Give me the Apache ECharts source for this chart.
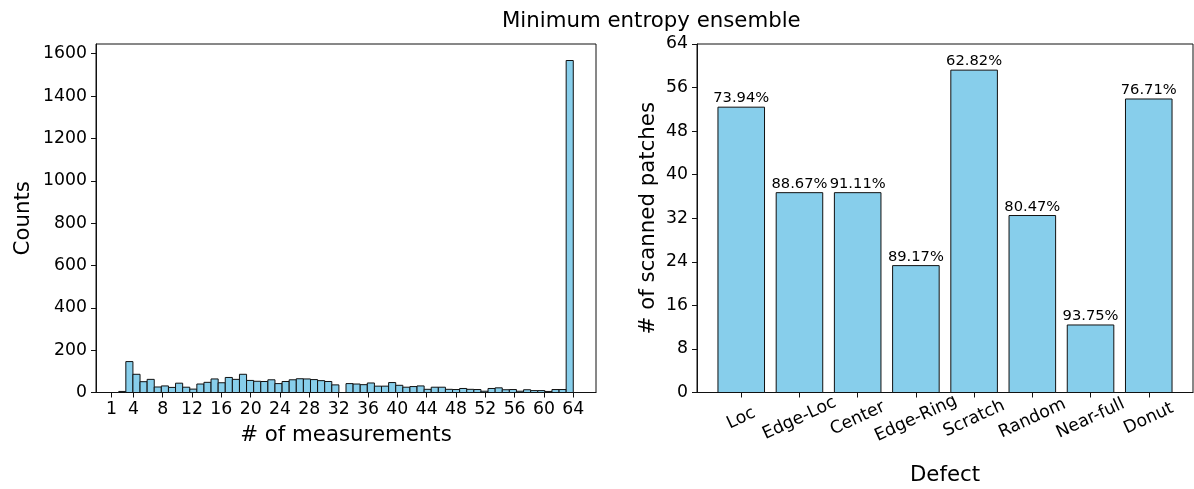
<!DOCTYPE html>
<html>
<head>
<meta charset="utf-8">
<script src="https://cdn.jsdelivr.net/npm/echarts@6/dist/echarts.min.js"></script>
<style>
html,body{margin:0;padding:0;background:#fff;}
#chart{width:1194px;height:489px;}
</style>
</head>
<body>
<div id="chart"></div>
<script>
// ---- Data ----
const titleText = 'Minimum entropy ensemble';

// Histogram: number of measurements, 64 bins between binMin and binMax
const binMin = 2;
const binMax = 64;
const binCounts = [
  5, 146, 86, 51, 62, 26, 31, 24, 44, 25, 16, 40, 48, 64, 46, 71,
  62, 86, 57, 53, 52, 60, 42, 52, 60, 65, 64, 61, 56, 52, 36, 0,
  42, 40, 37, 45, 30, 30, 47, 34, 25, 28, 31, 15, 25, 25, 15, 14,
  19, 15, 14, 6, 19, 22, 13, 14, 6, 13, 9, 9, 5, 14, 14, 1568
];
const histXTicks = [1, 4, 8, 12, 16, 20, 24, 28, 32, 36, 40, 44, 48, 52, 56, 60, 64];
const histYTicks = [0, 200, 400, 600, 800, 1000, 1200, 1400, 1600];

// Bar chart: scanned patches per defect
const defects = ['Loc', 'Edge-Loc', 'Center', 'Edge-Ring', 'Scratch', 'Random', 'Near-full', 'Donut'];
const scannedPatches = [52.4, 36.7, 36.7, 23.3, 59.2, 32.5, 12.4, 53.9];
const percentLabels = ['73.94%', '88.67%', '91.11%', '89.17%', '62.82%', '80.47%', '93.75%', '76.71%'];

// ---- Chart ----
const FONT = 'DejaVu Sans';
const TICK_FS = 17.3;
const LABEL_FS = 21.3;
const EDGE = '#111';
const FILL = '#87CEEB';

const nBins = binCounts.length;
const binW = (binMax - binMin) / nBins;
const histData = binCounts.map((c, i) => [binMin + i * binW, c]);
const barData = scannedPatches.map((v, i) => [i, v]);
const defectIdx = defects.map((d, i) => i);

const axisLine = {show: true, onZero: false, lineStyle: {color: EDGE, width: 1}};
const nameStyle = {fontFamily: FONT, fontSize: LABEL_FS, color: '#000'};
const plain = v => String(v);

const chart = echarts.init(document.getElementById('chart'), null, {renderer: 'canvas'});
chart.setOption({
  animation: false,
  textStyle: {fontFamily: FONT, color: '#000'},
  title: {
    text: titleText,
    left: 497, top: 6,
    textStyle: {fontFamily: FONT, fontSize: LABEL_FS, fontWeight: 'normal', color: '#000'}
  },
  grid: [
    {left: 96, right: 598, top: 44, bottom: 96.5, show: true, borderColor: EDGE, borderWidth: 1,
     containLabel: false, outerBoundsMode: 'none'},
    {left: 697, right: 1, top: 44, bottom: 96.5, show: true, borderColor: EDGE, borderWidth: 1,
     containLabel: false, outerBoundsMode: 'none'}
  ],
  xAxis: [
    {
      gridIndex: 0, type: 'value', min: -1.1, max: 67.1,
      name: '# of measurements', nameLocation: 'middle', nameGap: 32, nameTextStyle: nameStyle,
      axisLine: axisLine, splitLine: {show: false},
      axisTick: {show: true, length: 5, lineStyle: {color: EDGE}, customValues: histXTicks},
      axisLabel: {customValues: histXTicks, formatter: plain, fontSize: TICK_FS, color: '#000', margin: 9, fontFamily: FONT}
    },
    {
      gridIndex: 1, type: 'value', min: -0.76, max: 7.76,
      name: 'Defect', nameLocation: 'middle', nameGap: 72, nameTextStyle: nameStyle,
      axisLine: axisLine, splitLine: {show: false},
      axisTick: {show: true, length: 5, lineStyle: {color: EDGE}, customValues: defectIdx},
      axisLabel: {
        customValues: defectIdx,
        formatter: v => defects[Math.round(v)],
        rotate: 25, align: 'center', verticalAlign: 'middle',
        fontSize: TICK_FS, color: '#000', margin: 26, fontFamily: FONT
      }
    }
  ],
  yAxis: [
    {
      gridIndex: 0, type: 'value', min: 0, max: 1646,
      name: 'Counts', nameLocation: 'middle', nameGap: 62, nameTextStyle: nameStyle,
      axisLine: axisLine, splitLine: {show: false},
      axisTick: {show: true, length: 5, lineStyle: {color: EDGE}, customValues: histYTicks},
      axisLabel: {customValues: histYTicks, formatter: plain, fontSize: TICK_FS, color: '#000', margin: 9, fontFamily: FONT}
    },
    {
      gridIndex: 1, type: 'value', min: 0, max: 64, interval: 8,
      name: '# of scanned patches', nameLocation: 'middle', nameGap: 38, nameTextStyle: nameStyle,
      axisLine: axisLine, splitLine: {show: false},
      axisTick: {show: true, length: 5, lineStyle: {color: EDGE}},
      axisLabel: {formatter: plain, fontSize: TICK_FS, color: '#000', margin: 9, fontFamily: FONT}
    }
  ],
  series: [
    {
      type: 'custom',
      xAxisIndex: 0, yAxisIndex: 0,
      data: histData,
      encode: {x: 0, y: 1},
      renderItem: function (params, api) {
        const x0 = api.value(0);
        const p0 = api.coord([x0, 0]);
        const p1 = api.coord([x0 + binW, api.value(1)]);
        return {
          type: 'rect',
          shape: {x: p0[0], y: p1[1], width: p1[0] - p0[0], height: p0[1] - p1[1]},
          style: {fill: FILL, stroke: EDGE, lineWidth: 1}
        };
      }
    },
    {
      type: 'custom',
      xAxisIndex: 1, yAxisIndex: 1,
      data: barData,
      encode: {x: 0, y: 1},
      renderItem: function (params, api) {
        const i = api.value(0);
        const v = api.value(1);
        const p0 = api.coord([i - 0.4, 0]);
        const p1 = api.coord([i + 0.4, v]);
        return {
          type: 'group',
          children: [
            {
              type: 'rect',
              shape: {x: p0[0], y: p1[1], width: p1[0] - p0[0], height: p0[1] - p1[1]},
              style: {fill: FILL, stroke: EDGE, lineWidth: 1}
            },
            {
              type: 'text',
              x: (p0[0] + p1[0]) / 2, y: p1[1] - 1,
              style: {
                text: percentLabels[params.dataIndex], fill: '#000', fontFamily: FONT, fontSize: 14.7,
                align: 'center', verticalAlign: 'bottom'
              }
            }
          ]
        };
      }
    }
  ]
});
</script>
</body>
</html>
